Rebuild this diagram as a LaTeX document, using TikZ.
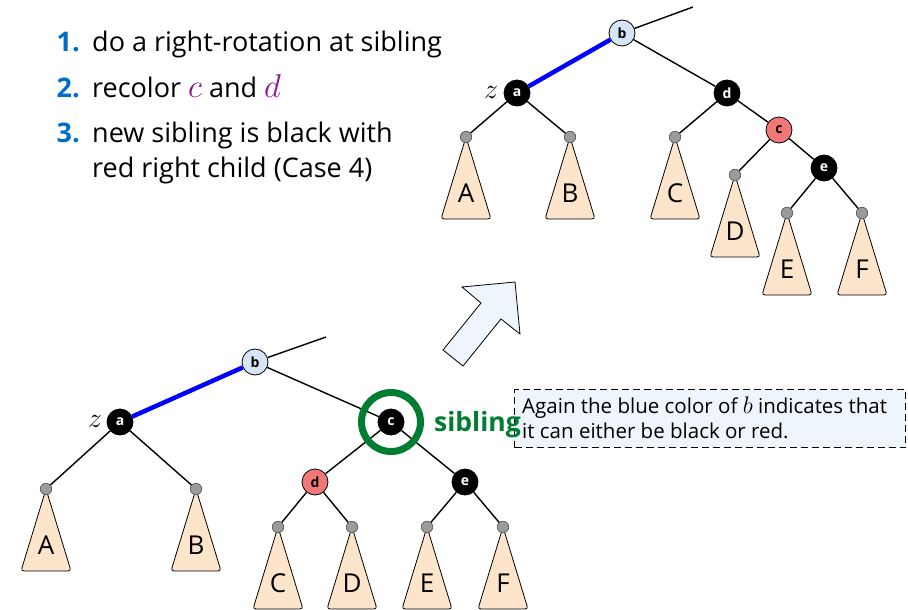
\documentclass[tikz,border=0pt]{standalone}
\usepackage{fix-cm}
\usepackage{fontspec}
\setmainfont{Open Sans}
\definecolor{numblue}{RGB}{0,110,200}
\definecolor{mathpurple}{RGB}{140,20,150}
\definecolor{sibgreen}{RGB}{0,125,50}
\definecolor{trifill}{RGB}{253,229,204}
\definecolor{redfill}{RGB}{242,120,120}
\definecolor{bluefill}{RGB}{213,229,245}
\definecolor{boxfill}{RGB}{238,245,253}
\definecolor{dotfill}{RGB}{155,155,155}
\tikzset{
  rb/.style={circle,draw=black,line width=0.8pt,minimum size=26pt,inner sep=0pt,font=\fontsize{14}{14}\selectfont\bfseries},
  blk/.style={rb,fill=black,text=white},
  redn/.style={rb,fill=redfill,text=black},
  bluen/.style={rb,fill=bluefill,text=black},
  leaf/.style={circle,draw=black!70,fill=dotfill,line width=0.6pt,minimum size=11.5pt,inner sep=0pt},
  tri/.style={draw=black,fill=trifill,line width=0.8pt,rounded corners=3pt,line join=round},
  tlabel/.style={font=\fontsize{26}{26}\selectfont,inner sep=0pt},
  edge/.style={draw=black,line width=1.4pt},
  bedge/.style={draw=blue,line width=4.5pt},
  listtxt/.style={anchor=base west,inner sep=0pt,font=\fontsize{27}{27}\selectfont},
  listnum/.style={anchor=base east,inner sep=0pt,font=\fontsize{27}{27}\selectfont\bfseries,text=numblue},
  ztxt/.style={font=\fontsize{28}{28}\selectfont,inner sep=0pt},
  notetxt/.style={anchor=base west,inner sep=0pt,font=\fontsize{20.5}{20.5}\selectfont},
}
\newcommand\mymath[2]{{\fontsize{#1}{#1}\selectfont$#2$}}
\newcommand\subtr[4]{%
  \draw[tri] (#2,#3) -- ++(25,82) -- ++(-50,0) -- cycle;
  \node[leaf] (#1) at (#2,#3) {};
  \node[tlabel] (#1l) at (#2,#3+56) {#4};
}
\begin{document}
\begin{tikzpicture}[x=1pt,y=-1pt]
\useasboundingbox (0,0) rectangle (908,610);
% list
\node[listnum] (n1) at (80,52) {1.};
\node[listtxt] (t1) at (92,52) {do a right-rotation at sibling};
\node[listnum] (n2) at (80,97) {2.};
\node[listtxt] (t2) at (92,97) {recolor \textcolor{mathpurple}{\mymath{33}{c}} and \textcolor{mathpurple}{\mymath{33}{d}}};
\node[listnum] (n3) at (80,142) {3.};
\node[listtxt] (t3) at (92,142) {new sibling is black with};
\node[listtxt] (t4) at (92,177) {red right child (Case 4)};

% top tree
\subtr{tA}{466}{137}{A}
\subtr{tB}{570}{137}{B}
\subtr{tC}{675}{137}{C}
\subtr{tD}{735}{175}{D}
\subtr{tE}{787}{213}{E}
\subtr{tF}{862}{213}{F}
\coordinate (tup) at (693,7);
\node[bluen] (tb) at (622,33) {b};
\node[blk] (ta) at (517,93) {a};
\node[blk] (td) at (727,93) {d};
\node[redn] (tc) at (779,130) {c};
\node[blk] (te) at (824,168) {e};
\node[ztxt] (tz) at (491,92) {$z$};
\draw[bedge] (ta) -- (tb);
\draw[edge] (tb) -- (tup);
\draw[edge] (tb) -- (td);
\draw[edge] (ta) -- (tA);
\draw[edge] (ta) -- (tB);
\draw[edge] (td) -- (tC);
\draw[edge] (td) -- (tc);
\draw[edge] (tc) -- (tD);
\draw[edge] (tc) -- (te);
\draw[edge] (te) -- (tE);
\draw[edge] (te) -- (tF);

% arrow
\draw[fill=boxfill,line width=0.8pt,line join=miter] (443,350) -- (481,303) -- (462,287) -- (515,282) -- (520,334) -- (501,319) -- (463,366) -- cycle;

% bottom tree
\subtr{bA}{46}{489}{A}
\subtr{bB}{196}{489}{B}
\subtr{bC}{278}{527}{C}
\subtr{bD}{352}{527}{D}
\subtr{bE}{427}{527}{E}
\subtr{bF}{503}{527}{F}
\coordinate (bup) at (326,337);
\node[bluen] (bb) at (255,362) {b};
\node[blk] (ba) at (120,422) {a};
\node[blk] (bc) at (391,422) {c};
\node[redn] (bd) at (315,482) {d};
\node[blk] (be) at (465,482) {e};
\node[ztxt] (bz) at (95,421) {$z$};
\draw[bedge] (ba) -- (bb);
\draw[edge] (bb) -- (bup);
\draw[edge] (bb) -- (bc);
\draw[edge] (ba) -- (bA);
\draw[edge] (ba) -- (bB);
\draw[edge] (bc) -- (bd);
\draw[edge] (bc) -- (be);
\draw[edge] (bd) -- (bC);
\draw[edge] (bd) -- (bD);
\draw[edge] (be) -- (bE);
\draw[edge] (be) -- (bF);
\node[circle,draw=sibgreen,line width=7pt,minimum size=59pt,inner sep=0pt] (ring) at (bc) {};

% note box
\node[draw=black,dash pattern=on 7pt off 4pt,fill=boxfill,line width=1pt,anchor=north west,minimum width=391pt,minimum height=58pt,inner sep=0pt] (note) at (514,389) {};
\node[notetxt] (note1) at (522,413) {Again the blue color of \mymath{24}{b} indicates that};
\node[notetxt] (note2) at (522,438) {it can either be black or red.};
\node[anchor=base west,inner sep=0pt,text=sibgreen,font=\fontsize{26.5}{26.5}\selectfont\bfseries] (sib) at (434,431) {sibling};
\end{tikzpicture}
\end{document}
